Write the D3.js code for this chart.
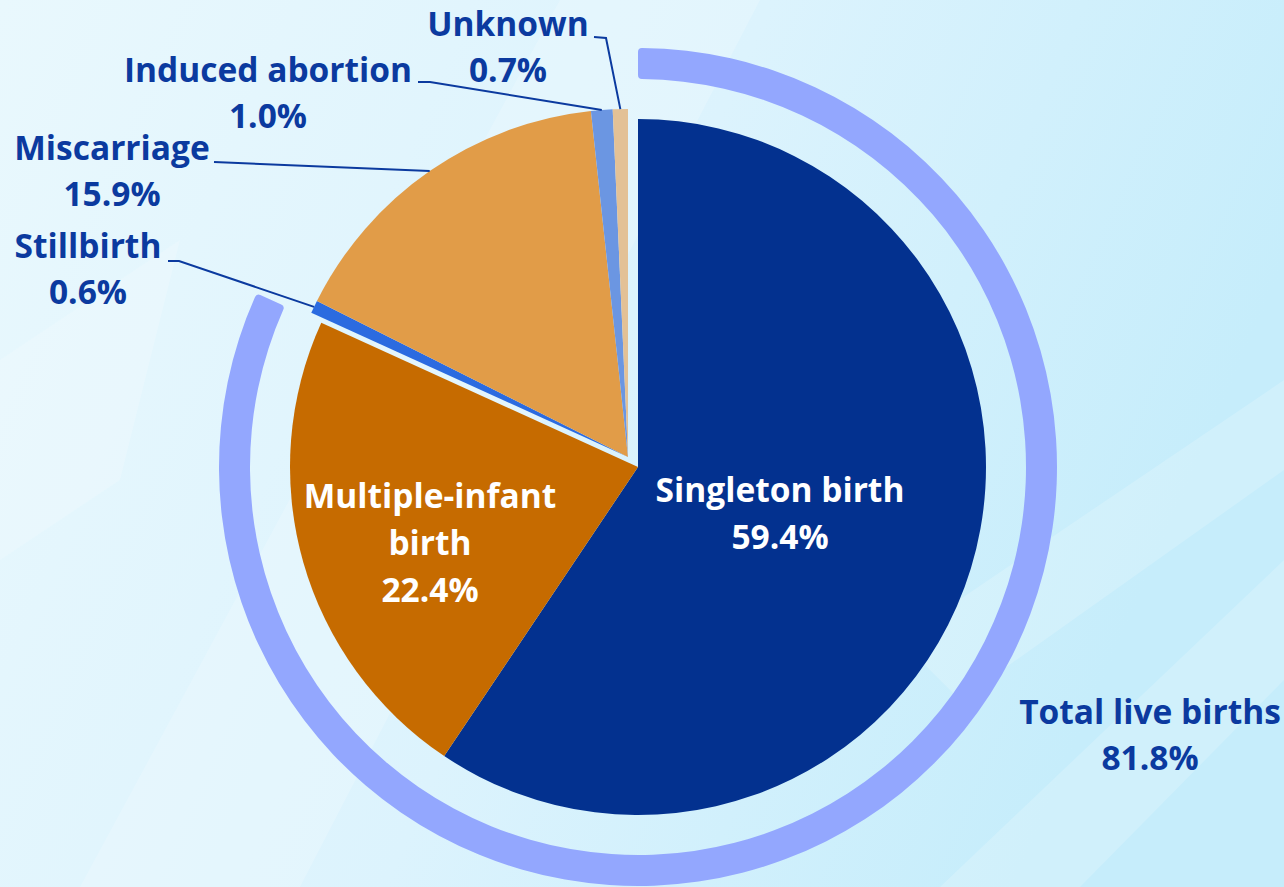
<!DOCTYPE html>
<html>
<head>
<meta charset="utf-8">
<script src="https://cdn.jsdelivr.net/npm/d3@7"></script>
<style>
    html, body { margin: 0; padding: 0; overflow: hidden; }
    svg { display: block; }
    text { font-family: "Open Sans", Lato, sans-serif; font-weight: 700; }
</style>
</head>
<body>
<svg id="chart" width="1284" height="887"></svg>
<script>
// pregnancy outcomes, share of all pregnancies (%)
const categories = ['Singleton birth', 'Multiple-infant birth', 'Stillbirth', 'Miscarriage', 'Induced abortion', 'Unknown']
const values = [59.4, 22.4, 0.6, 15.9, 1.0, 0.7]
const liveBirth = [true, true, false, false, false, false]
const liveLabel = 'Total live births'
const liveTotal = 81.8

const colors = ['#03318f', '#c66b00', '#2b6be0', '#e19c48', '#6b96e2', '#e3c196']
const textColor = '#0b3a9f'

const width = 1284
const height = 887
const cx = 638
const cy = 467
const radius = 348
const fontSize = 33.5

const svg = d3.select('#chart')

// 背景: light blue gradient with soft diagonal bands
const defs = svg.append('defs')
const grad = defs.append('linearGradient')
    .attr('id', 'bg')
    .attr('x1', '0%').attr('y1', '0%')
    .attr('x2', '100%').attr('y2', '30%')
grad.append('stop').attr('offset', '0%').attr('stop-color', '#e9f8fd')
grad.append('stop').attr('offset', '55%').attr('stop-color', '#dcf3fd')
grad.append('stop').attr('offset', '100%').attr('stop-color', '#c6edfb')

svg.append('rect')
    .attr('width', width)
    .attr('height', height)
    .attr('fill', 'url(#bg)')

const bands = [
    [[560, 0], [760, 0], [300, 887], [80, 887]],
    [[1284, 380], [1284, 470], [960, 700], [900, 640]],
    [[1284, 560], [1284, 680], [1080, 887], [940, 887]],
    [[0, 360], [180, 240], [120, 480], [0, 560]],
]
svg.append('g')
    .selectAll('polygon')
    .data(bands)
    .join('polygon')
    .attr('points', d => d.map(p => p.join(',')).join(' '))
    .attr('fill', '#ffffff')
    .attr('opacity', 0.18)

const pie = d3.pie()
    .sort(null)
    .value(d => d.value)

const rows = categories.map((c, i) => ({ name: c, value: values[i], live: liveBirth[i], color: colors[i] }))
const arcs = pie(rows)

const arc = d3.arc()
    .innerRadius(0)
    .outerRadius(radius)

const g = svg.append('g')
    .attr('transform', `translate(${cx},${cy})`)

// 外环: live births share
const liveEnd = liveTotal / d3.sum(values) * 2 * Math.PI
const ring = d3.arc()
    .innerRadius(388)
    .outerRadius(419)
    .cornerRadius(4)
    .startAngle(0)
    .endAngle(liveEnd)
g.append('path')
    .attr('d', ring())
    .attr('fill', '#93a7fe')

// 非活产 slices are pulled out together
const pull = [-10, -10]

g.append('g')
    .selectAll('path')
    .data(arcs)
    .join('path')
    .attr('d', arc)
    .attr('fill', d => d.data.color)
    .attr('transform', d => (d.data.live ? null : `translate(${pull[0]},${pull[1]})`))

// labels inside the live slices
const inside = [
    { idx: 0, x: 142, y: 35, lines: ['Singleton birth', '59.4%'] },
    { idx: 1, x: -208, y: 41, lines: ['Multiple-infant', 'birth', '22.4%'] },
]
inside.forEach((lab) => {
    const t = g.append('text')
        .attr('text-anchor', 'middle')
        .attr('fill', '#ffffff')
        .attr('font-size', fontSize)
    lab.lines.forEach((s, i) => {
        t.append('tspan')
            .attr('x', lab.x)
            .attr('y', lab.y + i * 47)
            .text(s)
    })
})

// outside labels with leader lines
const outside = [
    { idx: 5, x: 508, y: 36, lines: ['Unknown', '0.7%'], from: [594, 37], elbow: [606, 38] },
    { idx: 4, x: 268, y: 82, lines: ['Induced abortion', '1.0%'], from: [418, 82], elbow: [430, 82] },
    { idx: 3, x: 112, y: 160, lines: ['Miscarriage', '15.9%'], from: [214, 162], elbow: [214, 162] },
    { idx: 2, x: 88, y: 258, lines: ['Stillbirth', '0.6%'], from: [168, 261], elbow: [179, 261] },
]

outside.forEach((lab) => {
    const a = arcs[lab.idx]
    const mid = (a.startAngle + a.endAngle) / 2
    const ex = cx + pull[0] + Math.sin(mid) * radius
    const ey = cy + pull[1] - Math.cos(mid) * radius

    svg.append('polyline')
        .attr('points', [lab.from, lab.elbow, [ex, ey]].map(p => p.join(',')).join(' '))
        .attr('fill', 'none')
        .attr('stroke', textColor)
        .attr('stroke-width', 2)

    const t = svg.append('text')
        .attr('text-anchor', 'middle')
        .attr('fill', textColor)
        .attr('font-size', fontSize)
    lab.lines.forEach((s, i) => {
        t.append('tspan')
            .attr('x', lab.x)
            .attr('y', lab.y + i * 46)
            .text(s)
    })
})

// total live births label
const tl = svg.append('text')
    .attr('text-anchor', 'middle')
    .attr('fill', textColor)
    .attr('font-size', fontSize)
;[liveLabel, `${liveTotal.toFixed(1)}%`].forEach((s, i) => {
    tl.append('tspan')
        .attr('x', 1150)
        .attr('y', 724 + i * 46)
        .text(s)
})
</script>
</body>
</html>
